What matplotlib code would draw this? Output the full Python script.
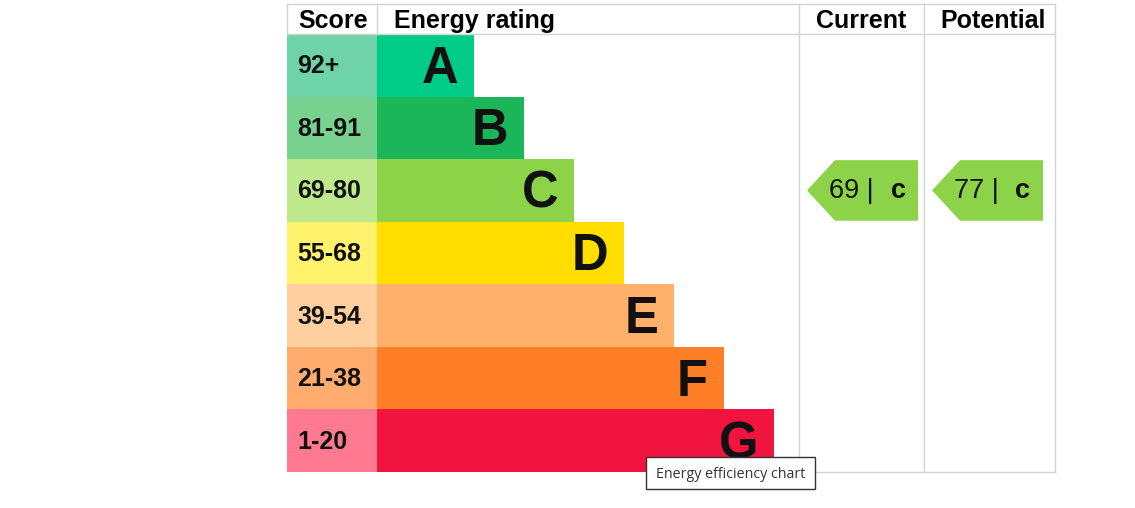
import matplotlib
matplotlib.use("Agg")
import matplotlib.pyplot as plt
from matplotlib.patches import Polygon, Rectangle

# EPC bands, top (best) to bottom (worst)
bands = ["A", "B", "C", "D", "E", "F", "G"]
score_labels = ["92+", "81-91", "69-80", "55-68", "39-54", "21-38", "1-20"]
band_lower = [92, 81, 69, 55, 39, 21, 1]
bar_colors = ["#00cc88", "#1bb55a", "#8dd34a", "#ffde00", "#ffb06a", "#ff7f27", "#f0143e"]
score_colors = ["#6ed3a8", "#78d18f", "#bde98c", "#fff36e", "#ffcfa0", "#ffac6e", "#ff7a90"]

current_score = 69
potential_score = 77

# layout in pixels
W, H = 1135, 508
left, score_w = 287, 90
top, head_h = 4, 30
row_h = (472 - 34) / 7
col_cur, col_pot, col_end = 799, 924, 1055
grid = "#d3d3d3"
FONT = "Liberation Sans"


def band_of(score):
    for i, lo in enumerate(band_lower):
        if score >= lo:
            return i
    return len(bands) - 1


fig = plt.figure(figsize=(W / 100, H / 100), dpi=100)
ax = fig.add_axes([0, 0, 1, 1])
ax.set_xlim(0, W)
ax.set_ylim(H, 0)
ax.axis("off")

rows_y = [top + head_h + row_h * (i + 0.5) for i in range(len(bands))]
bar_w = [97 + 50 * i for i in range(len(bands))]

# score cells and bars
ax.barh(rows_y, [score_w] * len(bands), left=left, height=row_h,
        color=score_colors, linewidth=0)
ax.barh(rows_y, bar_w, left=left + score_w, height=row_h,
        color=bar_colors, linewidth=0)

for i, b in enumerate(bands):
    ax.text(left + 10, rows_y[i] + 1, score_labels[i], fontsize=18,
            fontweight="bold", family=FONT, va="center", ha="left",
            color="#111111")
    ax.text(left + score_w + bar_w[i] - 16, rows_y[i] + 4, b, fontsize=36.5,
            fontweight="bold", family=FONT, va="center", ha="right",
            color="#111111")

# table lines
y_head = top + head_h
y_bot = top + head_h + row_h * 7
ax.plot([left, col_end], [top, top], color=grid, lw=1)
ax.plot([left, col_end], [y_head, y_head], color=grid, lw=1)
ax.plot([left + score_w, left + score_w], [top, y_head], color=grid, lw=1)
ax.plot([left, left], [top, y_head], color=grid, lw=1)
for x in (col_cur, col_pot, col_end):
    ax.plot([x, x], [top, y_bot], color=grid, lw=1)
ax.plot([left + score_w + bar_w[-1], col_end], [y_bot, y_bot], color=grid, lw=1)

# headers
hy = top + head_h / 2 + 2
ax.text(left + 11, hy, "Score", fontsize=18, fontweight="bold",
        family=FONT, va="center", ha="left")
ax.text(left + score_w + 17, hy, "Energy rating", fontsize=18, fontweight="bold",
        family=FONT, va="center", ha="left")
ax.text((col_cur + col_pot) / 2, hy, "Current", fontsize=18, fontweight="bold",
        family=FONT, va="center", ha="center")
ax.text((col_pot + col_end) / 2 + 4, hy, "Potential", fontsize=18, fontweight="bold",
        family=FONT, va="center", ha="center")


def arrow(x0, score):
    i = band_of(score)
    yc = rows_y[i]
    half = row_h / 2 - 1
    pts = [(x0, yc), (x0 + 28, yc - half), (x0 + 111, yc - half),
           (x0 + 111, yc + half), (x0 + 28, yc + half)]
    ax.add_patch(Polygon(pts, closed=True, color=bar_colors[i], lw=0))
    ax.text(x0 + 22, yc + 1, f"{score} |", fontsize=19.5, family=FONT,
            va="center", ha="left", color="#111111")
    ax.text(x0 + 91, yc + 1, bands[i].lower(), fontsize=19.5, fontweight="bold",
            family=FONT, va="center", ha="center", color="#111111")


arrow(807, current_score)
arrow(932, potential_score)

# tooltip
ax.add_patch(Rectangle((646, 457), 169, 32, facecolor="white",
                       edgecolor="#333333", lw=1, zorder=5))
ax.text(730.5, 474, "Energy efficiency chart", fontsize=10.3, family="Open Sans",
        va="center", ha="center", color="#333333", zorder=6)

fig.savefig("out.png", dpi=100)
